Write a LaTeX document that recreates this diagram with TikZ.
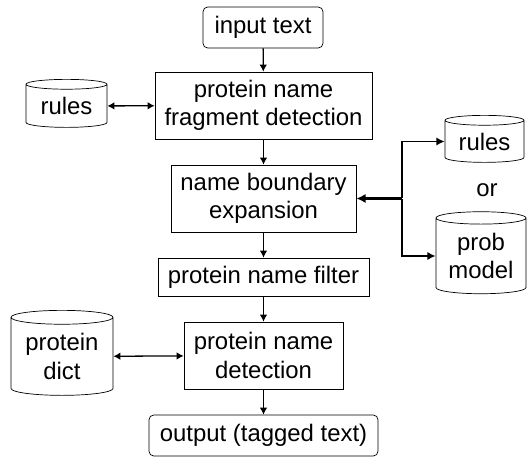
\documentclass[tikz,border=0pt]{standalone}
\usepackage{fontspec}
\setmainfont{Liberation Sans}
\usetikzlibrary{arrows.meta,positioning,shapes.geometric}

\tikzset{
  base/.style={draw,line width=0.6pt,inner sep=0pt,align=center,font=\fontsize{20.4}{24}\selectfont},
  stage/.style={base,rectangle},
  io/.style={base,rectangle,rounded corners=4pt},
  store/.style={base,cylinder,shape border rotate=90,aspect=0.19},
  flow/.style={line width=1.1pt,-{Latex[length=6pt,width=6.5pt]}},
  both/.style={line width=1.1pt,{Latex[length=6pt,width=6.5pt]}-{Latex[length=6pt,width=6.5pt]}},
  branch/.style={line width=1.6pt,-{Latex[length=7pt,width=7pt]}},
  feed/.style={line width=2.4pt,-{Latex[length=8pt,width=8pt]}}
}

\begin{document}
\begin{tikzpicture}[x=0.03cm,y=-0.03cm]
  \useasboundingbox (0,0) rectangle (532,466);
  % main chain
  \node[io,minimum width=120*0.03cm,minimum height=41*0.03cm] (input) at (263,27.5) {input text};
  \node[stage,minimum width=217*0.03cm,minimum height=67*0.03cm] (frag) at (263.5,105.5) {protein name\\fragment detection};
  \node[stage,minimum width=185*0.03cm,minimum height=67*0.03cm] (bound) at (263.5,198.5) {name boundary\\expansion};
  \node[stage,minimum width=211*0.03cm,minimum height=38*0.03cm] (filter) at (263.5,277) {protein name filter};
  \node[stage,minimum width=159*0.03cm,minimum height=67*0.03cm] (detect) at (263.5,355.5) {protein name\\detection};
  \node[io,minimum width=229*0.03cm,minimum height=41*0.03cm] (output) at (263.5,435.5) {output (tagged text)};

  % resources
  \node[store,minimum width=81*0.03cm,minimum height=48*0.03cm] (rulesL) at (66.5,106) {rules};
  \node[store,minimum width=102*0.03cm,minimum height=85*0.03cm] (dict) at (62,356.5) {protein\\dict};
  \node[store,minimum width=79*0.03cm,minimum height=47*0.03cm] (rulesR) at (484.5,141.5) {rules};
  \node[base,draw=none] (or) at (487,190) {or};
  \node[store,minimum width=90*0.03cm,minimum height=82*0.03cm] (prob) at (481,256) {prob\\model};

  \draw[flow] (input) -- (frag);
  \draw[flow] (frag) -- (bound);
  \draw[flow] (bound) -- (filter);
  \draw[flow] (filter) -- (detect);
  \draw[flow] (detect) -- (output);
  \draw[both] (rulesL) -- (frag);
  \draw[both] (dict) -- (detect);

  \coordinate (fork) at (402,198.5);
  \draw[feed] (fork) -- (bound.east);
  \draw[branch] ([yshift=0.8pt]fork) |- (rulesR.west);
  \draw[branch] ([yshift=-0.8pt]fork) |- (prob.west);
\end{tikzpicture}
\end{document}
